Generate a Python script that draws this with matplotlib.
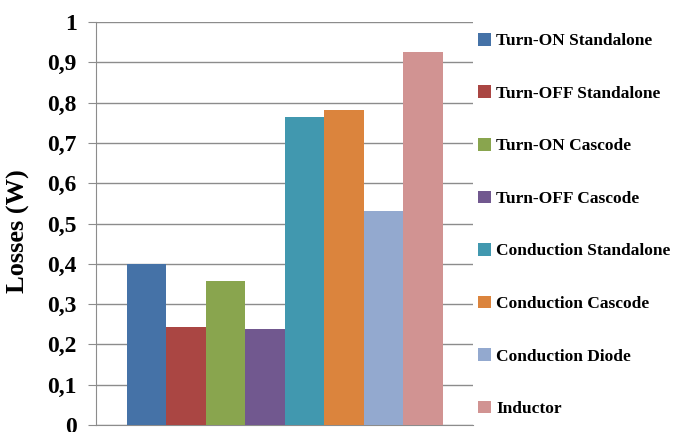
import numpy as np
import matplotlib.pyplot as plt
from matplotlib.patches import Patch

series = ['Turn-ON Standalone', 'Turn-OFF Standalone', 'Turn-ON Cascode',
          'Turn-OFF Cascode', 'Conduction Standalone', 'Conduction Cascode',
          'Conduction Diode', 'Inductor']
losses = [0.400, 0.243, 0.357, 0.238, 0.765, 0.782, 0.532, 0.925]
colors = ['#4572A7', '#AA4643', '#89A54E', '#71588F',
          '#4198AF', '#DB843D', '#93A9CF', '#D19392']
yticks = [0, 0.1, 0.2, 0.3, 0.4, 0.5, 0.6, 0.7, 0.8, 0.9, 1.0]
ytick_labels = ['0', '0,1', '0,2', '0,3', '0,4', '0,5', '0,6', '0,7', '0,8', '0,9', '1']

plt.rcParams['font.family'] = ['Liberation Serif', 'DejaVu Serif']
plt.rcParams['font.weight'] = 'bold'

W, H = 688, 432
fig = plt.figure(figsize=(W / 100, H / 100), dpi=100)
ax = fig.add_axes([96 / W, 7 / H, 377 / W, 403 / H])

x = np.arange(len(series))
ax.bar(x, losses, width=1.0, color=colors, zorder=3)

ax.set_xlim(-1.28, 8.26)
ax.set_ylim(0, 1)
ax.set_yticks(yticks)
ax.set_yticklabels(ytick_labels, fontsize=17, fontweight='bold')
ax.set_xticks([])
ax.grid(axis='y', color='#8c8c8c', lw=1, zorder=0)
ax.tick_params(axis='y', length=6, color='#8c8c8c', pad=8)
for s in ['top', 'right']:
    ax.spines[s].set_visible(False)
for s in ['left', 'bottom']:
    ax.spines[s].set_color('#8c8c8c')
ax.set_ylabel('Losses (W)', fontsize=19, fontweight='bold')
ax.yaxis.set_label_coords(-0.175, 0.48)

handles = [Patch(facecolor=c, label=s) for c, s in zip(colors, series)]
fig.legend(handles=handles, loc='upper left', bbox_to_anchor=(471 / W, 1 - 26 / H),
           frameon=False, handlelength=0.75, handleheight=0.75,
           handletextpad=0.3, labelspacing=2.08, borderaxespad=0,
           prop={'weight': 'bold', 'size': 12.5})

fig.savefig('out.png', dpi=100)
